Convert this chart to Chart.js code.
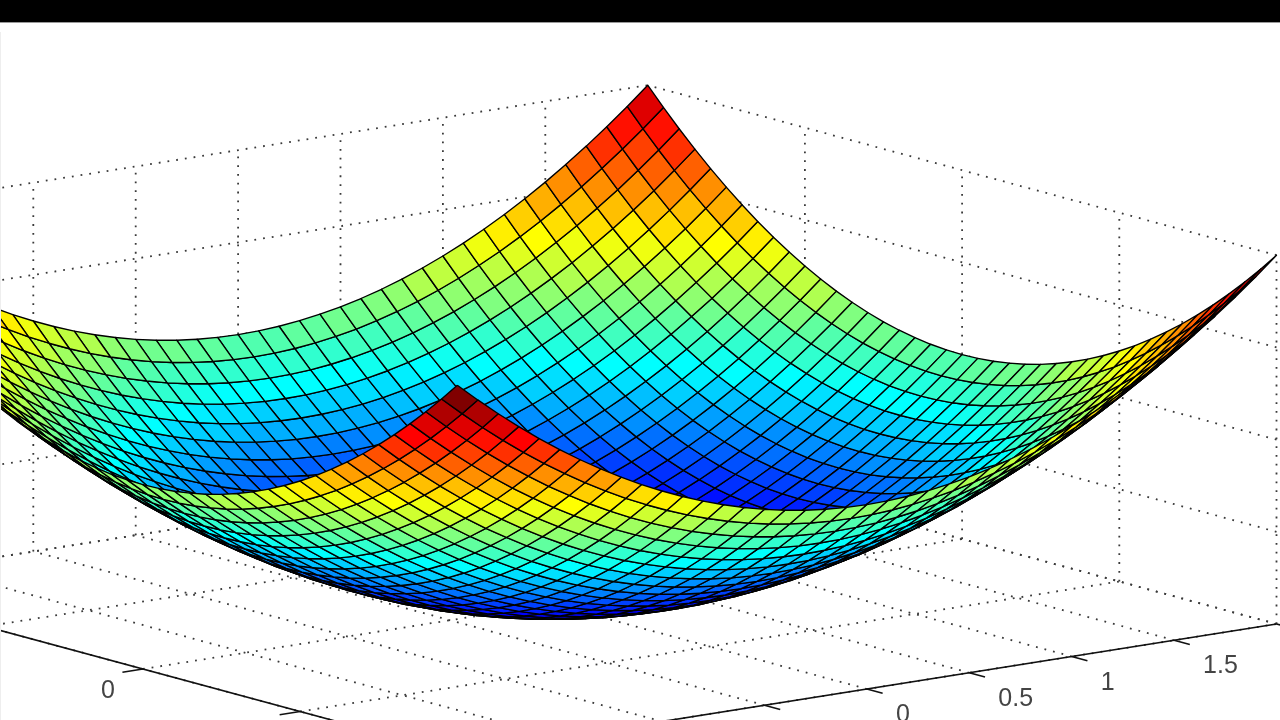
<!DOCTYPE html>
<html>
<head>
<meta charset="utf-8">
<title>surface</title>
<script src="https://cdn.jsdelivr.net/npm/chart.js@4"></script>
<style>
html, body { margin: 0; padding: 0; background: #fff; overflow: hidden; }
#bar { position: absolute; left: 0; top: 0; width: 1280px; height: 22px; background: #000; border-bottom: 1px solid #999; z-index: 2; }
#edge { position: absolute; left: 0; top: 32px; width: 1px; height: 688px; background: #eee; z-index: 2; }
#graph { position: absolute; left: 0; top: 0; filter: blur(0.4px); }
</style>
</head>
<body>
<div id="bar"></div>
<div id="edge"></div>
<canvas id="graph" width="1280" height="720"></canvas>
<script>
var xValues = [-2,-1.9,-1.8,-1.7,-1.6,-1.5,-1.4,-1.3,-1.2,-1.1,-1,-0.9,-0.8,-0.7,-0.6,-0.5,-0.4,-0.3,-0.2,-0.1,0,0.1,0.2,0.3,0.4,0.5,0.6,0.7,0.8,0.9,1,1.1,1.2,1.3,1.4,1.5,1.6,1.7,1.8,1.9,2]
var yValues = [-2,-1.9,-1.8,-1.7,-1.6,-1.5,-1.4,-1.3,-1.2,-1.1,-1,-0.9,-0.8,-0.7,-0.6,-0.5,-0.4,-0.3,-0.2,-0.1,0,0.1,0.2,0.3,0.4,0.5,0.6,0.7,0.8,0.9,1,1.1,1.2,1.3,1.4,1.5,1.6,1.7,1.8,1.9,2]

var zRows = [
[8,7.61,7.24,6.89,6.56,6.25,5.96,5.69,5.44,5.21,5,4.81,4.64,4.49,4.36,4.25,4.16,4.09,4.04,4.01,4,4.01,4.04,4.09,4.16,4.25,4.36,4.49,4.64,4.81,5,5.21,5.44,5.69,5.96,6.25,6.56,6.89,7.24,7.61,8],
[7.61,7.22,6.85,6.5,6.17,5.86,5.57,5.3,5.05,4.82,4.61,4.42,4.25,4.1,3.97,3.86,3.77,3.7,3.65,3.62,3.61,3.62,3.65,3.7,3.77,3.86,3.97,4.1,4.25,4.42,4.61,4.82,5.05,5.3,5.57,5.86,6.17,6.5,6.85,7.22,7.61],
[7.24,6.85,6.48,6.13,5.8,5.49,5.2,4.93,4.68,4.45,4.24,4.05,3.88,3.73,3.6,3.49,3.4,3.33,3.28,3.25,3.24,3.25,3.28,3.33,3.4,3.49,3.6,3.73,3.88,4.05,4.24,4.45,4.68,4.93,5.2,5.49,5.8,6.13,6.48,6.85,7.24],
[6.89,6.5,6.13,5.78,5.45,5.14,4.85,4.58,4.33,4.1,3.89,3.7,3.53,3.38,3.25,3.14,3.05,2.98,2.93,2.9,2.89,2.9,2.93,2.98,3.05,3.14,3.25,3.38,3.53,3.7,3.89,4.1,4.33,4.58,4.85,5.14,5.45,5.78,6.13,6.5,6.89],
[6.56,6.17,5.8,5.45,5.12,4.81,4.52,4.25,4,3.77,3.56,3.37,3.2,3.05,2.92,2.81,2.72,2.65,2.6,2.57,2.56,2.57,2.6,2.65,2.72,2.81,2.92,3.05,3.2,3.37,3.56,3.77,4,4.25,4.52,4.81,5.12,5.45,5.8,6.17,6.56],
[6.25,5.86,5.49,5.14,4.81,4.5,4.21,3.94,3.69,3.46,3.25,3.06,2.89,2.74,2.61,2.5,2.41,2.34,2.29,2.26,2.25,2.26,2.29,2.34,2.41,2.5,2.61,2.74,2.89,3.06,3.25,3.46,3.69,3.94,4.21,4.5,4.81,5.14,5.49,5.86,6.25],
[5.96,5.57,5.2,4.85,4.52,4.21,3.92,3.65,3.4,3.17,2.96,2.77,2.6,2.45,2.32,2.21,2.12,2.05,2,1.97,1.96,1.97,2,2.05,2.12,2.21,2.32,2.45,2.6,2.77,2.96,3.17,3.4,3.65,3.92,4.21,4.52,4.85,5.2,5.57,5.96],
[5.69,5.3,4.93,4.58,4.25,3.94,3.65,3.38,3.13,2.9,2.69,2.5,2.33,2.18,2.05,1.94,1.85,1.78,1.73,1.7,1.69,1.7,1.73,1.78,1.85,1.94,2.05,2.18,2.33,2.5,2.69,2.9,3.13,3.38,3.65,3.94,4.25,4.58,4.93,5.3,5.69],
[5.44,5.05,4.68,4.33,4,3.69,3.4,3.13,2.88,2.65,2.44,2.25,2.08,1.93,1.8,1.69,1.6,1.53,1.48,1.45,1.44,1.45,1.48,1.53,1.6,1.69,1.8,1.93,2.08,2.25,2.44,2.65,2.88,3.13,3.4,3.69,4,4.33,4.68,5.05,5.44],
[5.21,4.82,4.45,4.1,3.77,3.46,3.17,2.9,2.65,2.42,2.21,2.02,1.85,1.7,1.57,1.46,1.37,1.3,1.25,1.22,1.21,1.22,1.25,1.3,1.37,1.46,1.57,1.7,1.85,2.02,2.21,2.42,2.65,2.9,3.17,3.46,3.77,4.1,4.45,4.82,5.21],
[5,4.61,4.24,3.89,3.56,3.25,2.96,2.69,2.44,2.21,2,1.81,1.64,1.49,1.36,1.25,1.16,1.09,1.04,1.01,1,1.01,1.04,1.09,1.16,1.25,1.36,1.49,1.64,1.81,2,2.21,2.44,2.69,2.96,3.25,3.56,3.89,4.24,4.61,5],
[4.81,4.42,4.05,3.7,3.37,3.06,2.77,2.5,2.25,2.02,1.81,1.62,1.45,1.3,1.17,1.06,0.97,0.9,0.85,0.82,0.81,0.82,0.85,0.9,0.97,1.06,1.17,1.3,1.45,1.62,1.81,2.02,2.25,2.5,2.77,3.06,3.37,3.7,4.05,4.42,4.81],
[4.64,4.25,3.88,3.53,3.2,2.89,2.6,2.33,2.08,1.85,1.64,1.45,1.28,1.13,1,0.89,0.8,0.73,0.68,0.65,0.64,0.65,0.68,0.73,0.8,0.89,1,1.13,1.28,1.45,1.64,1.85,2.08,2.33,2.6,2.89,3.2,3.53,3.88,4.25,4.64],
[4.49,4.1,3.73,3.38,3.05,2.74,2.45,2.18,1.93,1.7,1.49,1.3,1.13,0.98,0.85,0.74,0.65,0.58,0.53,0.5,0.49,0.5,0.53,0.58,0.65,0.74,0.85,0.98,1.13,1.3,1.49,1.7,1.93,2.18,2.45,2.74,3.05,3.38,3.73,4.1,4.49],
[4.36,3.97,3.6,3.25,2.92,2.61,2.32,2.05,1.8,1.57,1.36,1.17,1,0.85,0.72,0.61,0.52,0.45,0.4,0.37,0.36,0.37,0.4,0.45,0.52,0.61,0.72,0.85,1,1.17,1.36,1.57,1.8,2.05,2.32,2.61,2.92,3.25,3.6,3.97,4.36],
[4.25,3.86,3.49,3.14,2.81,2.5,2.21,1.94,1.69,1.46,1.25,1.06,0.89,0.74,0.61,0.5,0.41,0.34,0.29,0.26,0.25,0.26,0.29,0.34,0.41,0.5,0.61,0.74,0.89,1.06,1.25,1.46,1.69,1.94,2.21,2.5,2.81,3.14,3.49,3.86,4.25],
[4.16,3.77,3.4,3.05,2.72,2.41,2.12,1.85,1.6,1.37,1.16,0.97,0.8,0.65,0.52,0.41,0.32,0.25,0.2,0.17,0.16,0.17,0.2,0.25,0.32,0.41,0.52,0.65,0.8,0.97,1.16,1.37,1.6,1.85,2.12,2.41,2.72,3.05,3.4,3.77,4.16],
[4.09,3.7,3.33,2.98,2.65,2.34,2.05,1.78,1.53,1.3,1.09,0.9,0.73,0.58,0.45,0.34,0.25,0.18,0.13,0.1,0.09,0.1,0.13,0.18,0.25,0.34,0.45,0.58,0.73,0.9,1.09,1.3,1.53,1.78,2.05,2.34,2.65,2.98,3.33,3.7,4.09],
[4.04,3.65,3.28,2.93,2.6,2.29,2,1.73,1.48,1.25,1.04,0.85,0.68,0.53,0.4,0.29,0.2,0.13,0.08,0.05,0.04,0.05,0.08,0.13,0.2,0.29,0.4,0.53,0.68,0.85,1.04,1.25,1.48,1.73,2,2.29,2.6,2.93,3.28,3.65,4.04],
[4.01,3.62,3.25,2.9,2.57,2.26,1.97,1.7,1.45,1.22,1.01,0.82,0.65,0.5,0.37,0.26,0.17,0.1,0.05,0.02,0.01,0.02,0.05,0.1,0.17,0.26,0.37,0.5,0.65,0.82,1.01,1.22,1.45,1.7,1.97,2.26,2.57,2.9,3.25,3.62,4.01],
[4,3.61,3.24,2.89,2.56,2.25,1.96,1.69,1.44,1.21,1,0.81,0.64,0.49,0.36,0.25,0.16,0.09,0.04,0.01,0,0.01,0.04,0.09,0.16,0.25,0.36,0.49,0.64,0.81,1,1.21,1.44,1.69,1.96,2.25,2.56,2.89,3.24,3.61,4],
[4.01,3.62,3.25,2.9,2.57,2.26,1.97,1.7,1.45,1.22,1.01,0.82,0.65,0.5,0.37,0.26,0.17,0.1,0.05,0.02,0.01,0.02,0.05,0.1,0.17,0.26,0.37,0.5,0.65,0.82,1.01,1.22,1.45,1.7,1.97,2.26,2.57,2.9,3.25,3.62,4.01],
[4.04,3.65,3.28,2.93,2.6,2.29,2,1.73,1.48,1.25,1.04,0.85,0.68,0.53,0.4,0.29,0.2,0.13,0.08,0.05,0.04,0.05,0.08,0.13,0.2,0.29,0.4,0.53,0.68,0.85,1.04,1.25,1.48,1.73,2,2.29,2.6,2.93,3.28,3.65,4.04],
[4.09,3.7,3.33,2.98,2.65,2.34,2.05,1.78,1.53,1.3,1.09,0.9,0.73,0.58,0.45,0.34,0.25,0.18,0.13,0.1,0.09,0.1,0.13,0.18,0.25,0.34,0.45,0.58,0.73,0.9,1.09,1.3,1.53,1.78,2.05,2.34,2.65,2.98,3.33,3.7,4.09],
[4.16,3.77,3.4,3.05,2.72,2.41,2.12,1.85,1.6,1.37,1.16,0.97,0.8,0.65,0.52,0.41,0.32,0.25,0.2,0.17,0.16,0.17,0.2,0.25,0.32,0.41,0.52,0.65,0.8,0.97,1.16,1.37,1.6,1.85,2.12,2.41,2.72,3.05,3.4,3.77,4.16],
[4.25,3.86,3.49,3.14,2.81,2.5,2.21,1.94,1.69,1.46,1.25,1.06,0.89,0.74,0.61,0.5,0.41,0.34,0.29,0.26,0.25,0.26,0.29,0.34,0.41,0.5,0.61,0.74,0.89,1.06,1.25,1.46,1.69,1.94,2.21,2.5,2.81,3.14,3.49,3.86,4.25],
[4.36,3.97,3.6,3.25,2.92,2.61,2.32,2.05,1.8,1.57,1.36,1.17,1,0.85,0.72,0.61,0.52,0.45,0.4,0.37,0.36,0.37,0.4,0.45,0.52,0.61,0.72,0.85,1,1.17,1.36,1.57,1.8,2.05,2.32,2.61,2.92,3.25,3.6,3.97,4.36],
[4.49,4.1,3.73,3.38,3.05,2.74,2.45,2.18,1.93,1.7,1.49,1.3,1.13,0.98,0.85,0.74,0.65,0.58,0.53,0.5,0.49,0.5,0.53,0.58,0.65,0.74,0.85,0.98,1.13,1.3,1.49,1.7,1.93,2.18,2.45,2.74,3.05,3.38,3.73,4.1,4.49],
[4.64,4.25,3.88,3.53,3.2,2.89,2.6,2.33,2.08,1.85,1.64,1.45,1.28,1.13,1,0.89,0.8,0.73,0.68,0.65,0.64,0.65,0.68,0.73,0.8,0.89,1,1.13,1.28,1.45,1.64,1.85,2.08,2.33,2.6,2.89,3.2,3.53,3.88,4.25,4.64],
[4.81,4.42,4.05,3.7,3.37,3.06,2.77,2.5,2.25,2.02,1.81,1.62,1.45,1.3,1.17,1.06,0.97,0.9,0.85,0.82,0.81,0.82,0.85,0.9,0.97,1.06,1.17,1.3,1.45,1.62,1.81,2.02,2.25,2.5,2.77,3.06,3.37,3.7,4.05,4.42,4.81],
[5,4.61,4.24,3.89,3.56,3.25,2.96,2.69,2.44,2.21,2,1.81,1.64,1.49,1.36,1.25,1.16,1.09,1.04,1.01,1,1.01,1.04,1.09,1.16,1.25,1.36,1.49,1.64,1.81,2,2.21,2.44,2.69,2.96,3.25,3.56,3.89,4.24,4.61,5],
[5.21,4.82,4.45,4.1,3.77,3.46,3.17,2.9,2.65,2.42,2.21,2.02,1.85,1.7,1.57,1.46,1.37,1.3,1.25,1.22,1.21,1.22,1.25,1.3,1.37,1.46,1.57,1.7,1.85,2.02,2.21,2.42,2.65,2.9,3.17,3.46,3.77,4.1,4.45,4.82,5.21],
[5.44,5.05,4.68,4.33,4,3.69,3.4,3.13,2.88,2.65,2.44,2.25,2.08,1.93,1.8,1.69,1.6,1.53,1.48,1.45,1.44,1.45,1.48,1.53,1.6,1.69,1.8,1.93,2.08,2.25,2.44,2.65,2.88,3.13,3.4,3.69,4,4.33,4.68,5.05,5.44],
[5.69,5.3,4.93,4.58,4.25,3.94,3.65,3.38,3.13,2.9,2.69,2.5,2.33,2.18,2.05,1.94,1.85,1.78,1.73,1.7,1.69,1.7,1.73,1.78,1.85,1.94,2.05,2.18,2.33,2.5,2.69,2.9,3.13,3.38,3.65,3.94,4.25,4.58,4.93,5.3,5.69],
[5.96,5.57,5.2,4.85,4.52,4.21,3.92,3.65,3.4,3.17,2.96,2.77,2.6,2.45,2.32,2.21,2.12,2.05,2,1.97,1.96,1.97,2,2.05,2.12,2.21,2.32,2.45,2.6,2.77,2.96,3.17,3.4,3.65,3.92,4.21,4.52,4.85,5.2,5.57,5.96],
[6.25,5.86,5.49,5.14,4.81,4.5,4.21,3.94,3.69,3.46,3.25,3.06,2.89,2.74,2.61,2.5,2.41,2.34,2.29,2.26,2.25,2.26,2.29,2.34,2.41,2.5,2.61,2.74,2.89,3.06,3.25,3.46,3.69,3.94,4.21,4.5,4.81,5.14,5.49,5.86,6.25],
[6.56,6.17,5.8,5.45,5.12,4.81,4.52,4.25,4,3.77,3.56,3.37,3.2,3.05,2.92,2.81,2.72,2.65,2.6,2.57,2.56,2.57,2.6,2.65,2.72,2.81,2.92,3.05,3.2,3.37,3.56,3.77,4,4.25,4.52,4.81,5.12,5.45,5.8,6.17,6.56],
[6.89,6.5,6.13,5.78,5.45,5.14,4.85,4.58,4.33,4.1,3.89,3.7,3.53,3.38,3.25,3.14,3.05,2.98,2.93,2.9,2.89,2.9,2.93,2.98,3.05,3.14,3.25,3.38,3.53,3.7,3.89,4.1,4.33,4.58,4.85,5.14,5.45,5.78,6.13,6.5,6.89],
[7.24,6.85,6.48,6.13,5.8,5.49,5.2,4.93,4.68,4.45,4.24,4.05,3.88,3.73,3.6,3.49,3.4,3.33,3.28,3.25,3.24,3.25,3.28,3.33,3.4,3.49,3.6,3.73,3.88,4.05,4.24,4.45,4.68,4.93,5.2,5.49,5.8,6.13,6.48,6.85,7.24],
[7.61,7.22,6.85,6.5,6.17,5.86,5.57,5.3,5.05,4.82,4.61,4.42,4.25,4.1,3.97,3.86,3.77,3.7,3.65,3.62,3.61,3.62,3.65,3.7,3.77,3.86,3.97,4.1,4.25,4.42,4.61,4.82,5.05,5.3,5.57,5.86,6.17,6.5,6.85,7.22,7.61],
[8,7.61,7.24,6.89,6.56,6.25,5.96,5.69,5.44,5.21,5,4.81,4.64,4.49,4.36,4.25,4.16,4.09,4.04,4.01,4,4.01,4.04,4.09,4.16,4.25,4.36,4.49,4.64,4.81,5,5.21,5.44,5.69,5.96,6.25,6.56,6.89,7.24,7.61,8]
]

var xTicks = [-2,-1.5,-1,-0.5,0,0.5,1,1.5,2]
var yTicks = [-2,-1,0,1,2]
var zTicks = [0,2,4,6,8]
var xTickLabels = ['-2','-1.5','-1','-0.5','0','0.5','1','1.5','2']
var yTickLabels = ['-2','-1','0','1','2']

var X0 = -2, X1 = 2, Y0 = -2, Y1 = 2, Z0 = 0, Z1 = 8

// view: where one data unit lands on the plane of the chart
var view = {cx: 552.5, cy: 604, xx: 204.8, xy: -157.2, yx: 32.5, yy: 42.5, zz: 46.1}

function project(x, y, z) {
    return {
        x: view.cx + view.xx * x + view.xy * y,
        y: view.cy - view.yx * x - view.yy * y - view.zz * z
    }
}

// bigger = closer to the viewer
function depth(x, y, z) {
    return view.xy * view.zz * x - view.xx * view.zz * y + (view.xx * view.yy - view.xy * view.yx) * z
}

function clamp(v) {
    return Math.max(0, Math.min(1, v))
}

// jet colormap, 64 steps
function jet(z) {
    var k = Math.min(63, Math.floor((z - Z0) / (Z1 - Z0) * 64)) + 1
    var t = k / 64
    var r = clamp(1.5 - Math.abs(4 * t - 3))
    var g = clamp(1.5 - Math.abs(4 * t - 2))
    var b = clamp(1.5 - Math.abs(4 * t - 1))
    return 'rgb(' + Math.round(r * 255) + ',' + Math.round(g * 255) + ',' + Math.round(b * 255) + ')'
}

function lineSet(p, q, style) {
    return {
        data: [project(p[0], p[1], p[2]), project(q[0], q[1], q[2])],
        showLine: true,
        pointRadius: 0,
        fill: false,
        borderColor: style.color,
        borderWidth: style.width,
        borderDash: style.dash || []
    }
}

var dotted = {color: '#3a3a3a', width: 1.8, dash: [1.8, 7]}
var solid = {color: '#111', width: 1.6}

var backSets = []
var i, j

// walls and floor
xTicks.forEach(function(t) {
    backSets.push(lineSet([t, Y1, Z0], [t, Y1, Z1], dotted))
    backSets.push(lineSet([t, Y0, Z0], [t, Y1, Z0], dotted))
})
yTicks.forEach(function(t) {
    backSets.push(lineSet([X1, t, Z0], [X1, t, Z1], dotted))
    backSets.push(lineSet([X0, t, Z0], [X1, t, Z0], dotted))
})
zTicks.forEach(function(t) {
    backSets.push(lineSet([X0, Y1, t], [X1, Y1, t], dotted))
    backSets.push(lineSet([X1, Y0, t], [X1, Y1, t], dotted))
})

// axes with their tick marks
backSets.push(lineSet([X0, Y0, Z0], [X1, Y0, Z0], solid))
backSets.push(lineSet([X0, Y0, Z0], [X0, Y1, Z0], solid))
xTicks.forEach(function(t) {
    backSets.push(lineSet([t, Y0, Z0], [t, Y0 - 0.1, Z0], solid))
})
yTicks.forEach(function(t) {
    backSets.push(lineSet([X0, t, Z0], [X0 - 0.1, t, Z0], solid))
})

// surface cells, sorted back to front
var cells = []
for (j = 0; j < yValues.length - 1; j++) {
    for (i = 0; i < xValues.length - 1; i++) {
        var z00 = zRows[j][i], z10 = zRows[j][i + 1], z11 = zRows[j + 1][i + 1], z01 = zRows[j + 1][i]
        var p00 = project(xValues[i], yValues[j], z00)
        var p10 = project(xValues[i + 1], yValues[j], z10)
        var p11 = project(xValues[i + 1], yValues[j + 1], z11)
        var p01 = project(xValues[i], yValues[j + 1], z01)
        cells.push({
            d: depth((xValues[i] + xValues[i + 1]) / 2, (yValues[j] + yValues[j + 1]) / 2, (z00 + z10 + z11 + z01) / 4),
            set: {
                data: [p00, p10, p11, p01, p00],
                showLine: true,
                pointRadius: 0,
                fill: 'shape',
                backgroundColor: jet(z00),
                borderColor: '#000',
                borderWidth: 1.35
            }
        })
    }
}
cells.sort(function(a, b) { return a.d - b.d })

// chart.js paints the first dataset last
var sets = backSets.concat(cells.map(function(c) { return c.set })).reverse()

var axisLabels = {
    id: 'axisLabels',
    afterDatasetsDraw: function(chart) {
        var c = chart.ctx
        var sx = chart.scales.x, sy = chart.scales.y
        c.save()
        c.font = '25px "Liberation Sans"'
        c.fillStyle = '#444'
        c.textAlign = 'left'
        xTicks.forEach(function(t, n) {
            var p = project(t, Y0, Z0)
            c.fillText(xTickLabels[n], sx.getPixelForValue(p.x) + 29, sy.getPixelForValue(p.y) + 33)
        })
        yTicks.forEach(function(t, n) {
            var p = project(X0, t, Z0)
            c.fillText(yTickLabels[n], sx.getPixelForValue(p.x) - 42, sy.getPixelForValue(p.y) + 29)
        })
        c.restore()
    }
}

var ctx = document.getElementById('graph').getContext('2d')

var myChart = new Chart(ctx, {
    type: 'scatter',
    data: {datasets: sets},
    plugins: [axisLabels],
    options: {
        responsive: false,
        animation: false,
        devicePixelRatio: 1,
        layout: {padding: 0},
        elements: {line: {tension: 0, borderJoinStyle: 'round'}},
        plugins: {legend: {display: false}, tooltip: {enabled: false}, title: {display: false}},
        scales: {
            x: {type: 'linear', min: 0, max: 1280, display: false},
            y: {type: 'linear', min: 0, max: 720, reverse: true, display: false}
        }
    }
})
</script>
</body>
</html>
